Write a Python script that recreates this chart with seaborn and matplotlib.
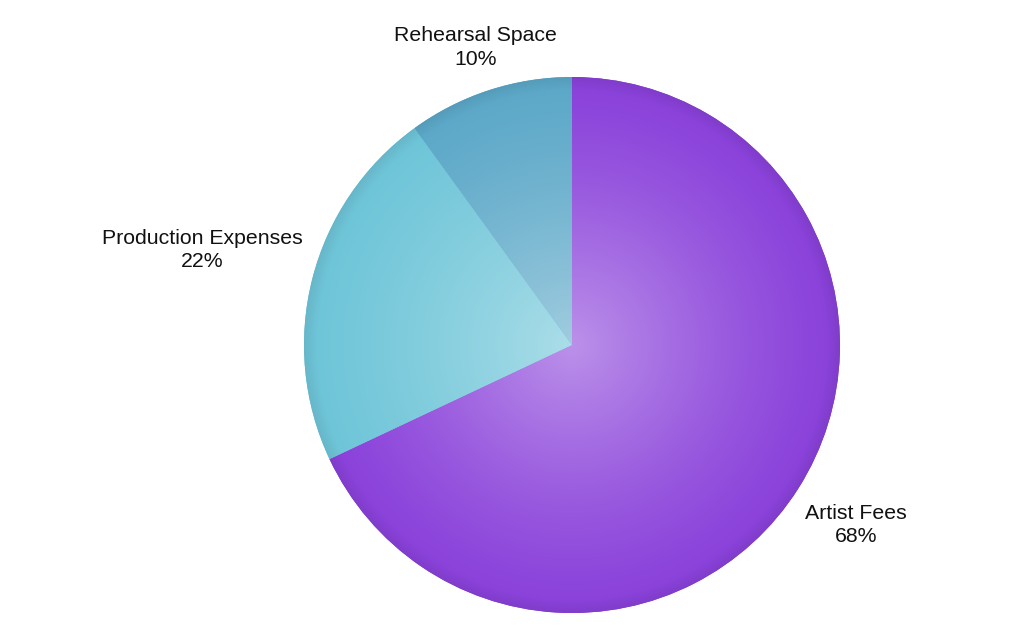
import numpy as np
import matplotlib
matplotlib.use("Agg")
import matplotlib.pyplot as plt
import matplotlib.colors as mcolors
import seaborn as sns

categories = ["Artist Fees", "Production Expenses", "Rehearsal Space"]
values = [68, 22, 10]
colors = ["#8a41da", "#6ec5d8", "#5ca8c8"]
label_dist = [1.255, 1.425, 1.168]

sns.set_theme(style="white")
plt.rcParams['font.family'] = ['Liberation Sans', 'DejaVu Sans']

W, H = 1024, 635
fig = plt.figure(figsize=(W / 100, H / 100), dpi=100)
ax = fig.add_axes([0, 0, 1, 1])
cx, cy, R = 572, 345, 268

wedges, _ = ax.pie(values, colors=colors, startangle=90, counterclock=False,
                   radius=1.0, wedgeprops=dict(linewidth=0))

# radial shading: lighter toward centre
n = 600
xs = np.linspace(-1, 1, n)
X, Y = np.meshgrid(xs, xs)
Rr = np.sqrt(X ** 2 + Y ** 2)
for w, c in zip(wedges, colors):
    base = np.array(mcolors.to_rgb(c))
    t = np.clip(1 - Rr, 0, 1) ** 1.3 * 0.42
    img = base[None, None, :] * (1 - t[..., None]) + t[..., None]
    rim = np.clip((Rr - 0.95) / 0.05, 0, 1)[..., None] * 0.07
    img = img * (1 - rim)
    im = ax.imshow(np.clip(img, 0, 1), extent=(-1, 1, -1, 1), origin='lower',
                   interpolation='bilinear', zorder=w.get_zorder() + 0.1)
    im.set_clip_path(w)

total = sum(values)
ang = 90.0
for cat, v, d in zip(categories, values, label_dist):
    span = 360.0 * v / total
    mid = np.deg2rad(ang - span / 2)
    ang -= span
    x, y = d * np.cos(mid), d * np.sin(mid)
    ax.text(x, y, f"{cat}\n{v}%", ha='center', va='center', fontsize=15.3,
            color='#111111', linespacing=1.3, multialignment='center')

ax.set_xlim(-cx / R, (W - cx) / R)
ax.set_ylim(-(H - cy) / R, cy / R)
ax.set_aspect('equal')
ax.axis('off')

fig.savefig("out.png", dpi=100)
